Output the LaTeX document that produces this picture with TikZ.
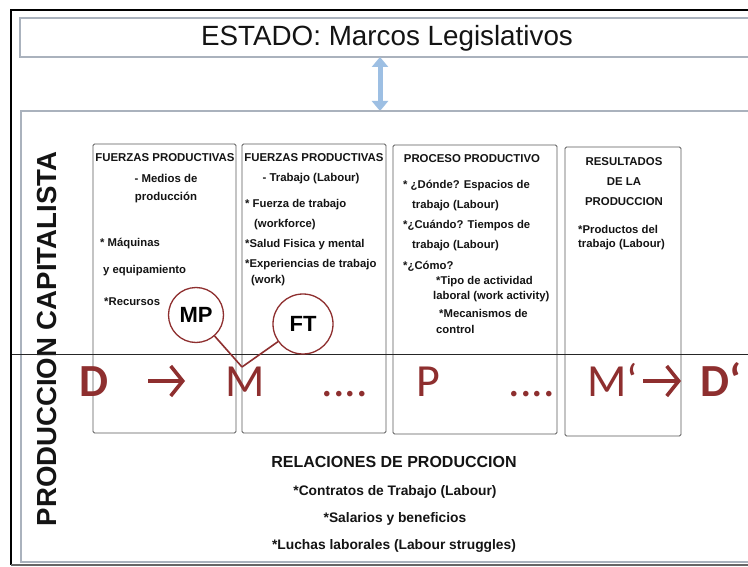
\documentclass[tikz,border=0pt]{standalone}
\usepackage{fontspec}
\setmainfont{Liberation Sans}
\newfontfamily\formfont{Carlito}
\usetikzlibrary{arrows.meta}
\definecolor{redc}{HTML}{8E2F2F}
\definecolor{framegray}{HTML}{AAB2BD}
\definecolor{boxgray}{HTML}{5A5A5A}
\definecolor{arrowblue}{HTML}{9DBFE3}
\definecolor{txt}{HTML}{141414}
\begin{document}
\begin{tikzpicture}[x=1pt,y=-1pt,
  colbox/.style={draw=boxgray, line width=0.9pt, rounded corners=1.5pt, inner sep=0pt, outer sep=0pt},
  head/.style={font=\bfseries\fontsize{11.4}{13}\selectfont, text=txt, inner sep=0pt},
  body/.style={font=\bfseries\fontsize{11.3}{12}\selectfont, text=txt, inner sep=0pt, anchor=west},
  bottomhead/.style={font=\bfseries\fontsize{16}{18}\selectfont, text=txt, inner sep=0pt},
  bottombody/.style={font=\bfseries\fontsize{13.8}{15}\selectfont, text=txt, inner sep=0pt},
  formula/.style={font=\formfont\fontsize{46}{50}\selectfont, text=redc, inner sep=0pt, anchor=base},
  formulabold/.style={formula, font=\formfont\bfseries\fontsize{46}{50}\selectfont},
  redarrow/.style={draw=redc, line width=3.6pt, -{Straight Barb[length=12pt,width=30pt]}},
  bubble/.style={circle, draw=redc, line width=1.3pt, font=\bfseries\fontsize{22}{24}\selectfont, text=black, inner sep=0pt},
  bubbleline/.style={draw=redc, line width=1.6pt},
  frameline/.style={draw=framegray, line width=1.6pt},
  thinline/.style={draw=black!85, line width=0.7pt}
]
\useasboundingbox (0,0) rectangle (748,567);
\fill[white] (0,0) rectangle (748,567);

% outer frame
\draw[black, line width=2pt] (748,10) -- (11,10) -- (11,565);
\draw[black!60, line width=1.6pt] (11,565) -- (748,565);
% estado frame
\draw[frameline] (748,18) -- (20,18) -- (20,57) -- (748,57);
\node[font=\fontsize{27.8}{30}\selectfont, text=txt, inner sep=0pt] (estado) at (387,38) {ESTADO: Marcos Legislativos};
% double arrow
\coordinate (ua) at (380,57);
\coordinate (ub) at (380,111);
\draw[draw=arrowblue, line width=5pt, {Triangle[length=10pt,width=16pt]}-{Triangle[length=10pt,width=16pt]}] (ua) -- (ub);
% main frame
\draw[frameline] (748,111) -- (21,111) -- (21,562) -- (748,562);

% vertical title
\node[rotate=90, font=\bfseries\fontsize{27.6}{29}\selectfont, text=txt, inner sep=0pt] (vtitle) at (47,339) {PRODUCCION CAPITALISTA};

% columns
\node[colbox, minimum width=143pt, minimum height=289pt] (col1) at (164.5,288.5) {};
\node[colbox, minimum width=144pt, minimum height=289pt] (col2) at (314,288.5) {};
\node[colbox, minimum width=164pt, minimum height=289pt] (col3) at (475,289.5) {};
\node[colbox, minimum width=116pt, minimum height=289pt] (col4) at (623,291.5) {};

% column 1
\node[head] (c1a) at (165,158) {FUERZAS PRODUCTIVAS};
\node[head] (c1b) at (166,178) {- Medios de};
\node[head] (c1c) at (166,198) {producción};
\node[body] (c1d) at (100,244) {* Máquinas};
\node[body] (c1e) at (103,271) {y equipamiento};
\node[body] (c1f) at (104,302) {*Recursos};

% column 2
\node[head] (c2a) at (314,158) {FUERZAS PRODUCTIVAS};
\node[head] (c2b) at (311,179) {- Trabajo (Labour)};
\node[body] (c2c) at (245,205) {* Fuerza de trabajo};
\node[body] (c2d) at (254,225) {(workforce)};
\node[body] (c2e) at (245,245) {*Salud Fisica y mental};
\node[body] (c2f) at (245,265) {*Experiencias de trabajo};
\node[body] (c2g) at (251,281) {(work)};

% column 3
\node[head] (c3a) at (472,159) {PROCESO PRODUCTIVO};
\node[body] (c3b) at (403,186) {* ¿Dónde? Espacios de};
\node[body] (c3c) at (412,206) {trabajo (Labour)};
\node[body] (c3d) at (403,226) {*¿Cuándo? Tiempos de};
\node[body] (c3e) at (412,246) {trabajo (Labour)};
\node[body] (c3f) at (403,266) {*¿Cómo?};
\node[body] (c3g) at (436,282) {*Tipo de actividad};
\node[body] (c3h) at (433,297) {laboral (work activity)};
\node[body] (c3i) at (439,313) {*Mecanismos de};
\node[body] (c3j) at (436,329) {control};

% column 4
\node[head] (c4a) at (624,162) {RESULTADOS};
\node[head] (c4b) at (624,182) {DE LA};
\node[head] (c4c) at (624,202) {PRODUCCION};
\node[body] (c4d) at (578,229) {*Productos del};
\node[body] (c4e) at (578,245) {trabajo (Labour)};

% horizontal line
\coordinate (hl1) at (12,354);
\coordinate (hl2) at (748,354);
\draw[thinline] (hl1) -- (hl2);

% formula
\node[formulabold] (fd) at (94,396) {D};
\coordinate (a1s) at (148,381);
\coordinate (a1e) at (185,381);
\draw[redarrow] (a1s) -- (a1e);
\node[formula] (fm) at (245,396) {M};
\node[formula] (fdots1) at (345,396) {....};
\node[formula] (fp) at (428,396) {P};
\node[formula] (fdots2) at (532,396) {....};
\node[formula] (fm2) at (613,396) {M‘};
\coordinate (a2s) at (643,381);
\coordinate (a2e) at (681,381);
\draw[redarrow] (a2s) -- (a2e);
\node[formulabold] (fd2) at (721,396) {D‘};

% bubbles
\node[bubble, minimum size=55pt] (mp) at (196,315) {MP};
\node[bubble, minimum size=60pt] (ft) at (303,324) {FT};
\coordinate (mj) at (242,367);
\draw[bubbleline] (mp) -- (mj);
\draw[bubbleline] (ft) -- (mj);

% relaciones
\node[bottomhead] (r0) at (394,462) {RELACIONES DE PRODUCCION};
\node[bottombody] (r1) at (395,492) {*Contratos de Trabajo (Labour)};
\node[bottombody] (r2) at (395,519) {*Salarios y beneficios};
\node[bottombody] (r3) at (394,546) {*Luchas laborales (Labour struggles)};
\end{tikzpicture}
\end{document}
